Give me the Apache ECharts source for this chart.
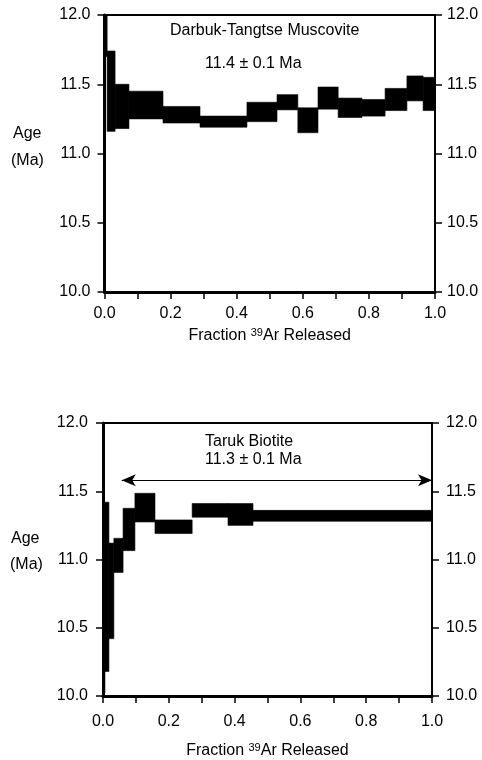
<!DOCTYPE html>
<html>
<head>
<meta charset="utf-8">
<script src="https://cdn.jsdelivr.net/npm/echarts@6/dist/echarts.min.js"></script>
<style>
html, body { margin: 0; padding: 0; background: #fff; }
#chart { width: 482px; height: 760px; }
</style>
</head>
<body>
<div id="chart"></div>
<script>
// Darbuk-Tangtse muscovite: step edges (cumulative 39Ar fraction), step ages and errors (Ma)
const muscoviteEdges = [0, 0.008, 0.032, 0.074, 0.177, 0.289, 0.431, 0.522, 0.585, 0.646, 0.707, 0.779, 0.849, 0.915, 0.964, 1.0]
const muscoviteAges = [12.0, 11.45, 11.34, 11.35, 11.28, 11.23, 11.30, 11.37, 11.24, 11.40, 11.33, 11.33, 11.39, 11.47, 11.43]
const muscoviteErrors = [0.30, 0.29, 0.16, 0.10, 0.06, 0.04, 0.07, 0.055, 0.09, 0.08, 0.07, 0.06, 0.08, 0.09, 0.12]

// Taruk biotite
const biotiteEdges = [0, 0.006, 0.018, 0.033, 0.061, 0.097, 0.158, 0.271, 0.380, 0.456, 1.0]
const biotiteAges = [10.72, 10.80, 10.77, 11.03, 11.22, 11.38, 11.24, 11.36, 11.33, 11.32]
const biotiteErrors = [0.70, 0.62, 0.35, 0.125, 0.155, 0.105, 0.05, 0.05, 0.08, 0.04]
const plateauRange = [0.057, 1.0]
const plateauArrowAge = 11.58

const yTicks = [10.0, 10.5, 11.0, 11.5, 12.0]

const FONT = 'Liberation Sans'
const FONT_CSS = '16px "Liberation Sans"'
const chart = echarts.init(document.getElementById('chart'))

function boxes (edges, ages, errors) {
  return ages.map((a, i) => [edges[i], edges[i + 1], a - errors[i], a + errors[i]])
}

function renderBox (params, api) {
  const p0 = api.coord([api.value(0), api.value(3)])
  const p1 = api.coord([api.value(1), api.value(2)])
  const cs = params.coordSys
  const shape = echarts.graphic.clipRectByRect(
    { x: p0[0], y: p0[1], width: p1[0] - p0[0], height: p1[1] - p0[1] },
    { x: cs.x, y: cs.y, width: cs.width, height: cs.height }
  )
  return shape && {
    type: 'rect',
    shape: shape,
    style: { fill: '#000', stroke: '#000', lineWidth: 0.6 }
  }
}

function xAxis (grid, labelMargin, nameGap) {
  return {
    type: 'value',
    gridIndex: grid,
    min: 0,
    max: 1,
    interval: 0.2,
    axisLine: { onZero: false, lineStyle: { color: '#000', width: 3 } },
    axisTick: { show: true, length: 7, lineStyle: { color: '#000', width: 1.5 } },
    minorTick: { show: true, splitNumber: 2, length: 7, lineStyle: { color: '#000', width: 1.5 } },
    splitLine: { show: false },
    axisLabel: {
      color: '#000',
      fontFamily: FONT,
      fontSize: 16,
      margin: labelMargin,
      formatter: v => v.toFixed(1)
    },
    name: 'Fraction {sup|39}Ar Released',
    nameLocation: 'middle',
    nameGap: nameGap,
    nameTextStyle: {
      color: '#000',
      fontFamily: FONT,
      fontSize: 16,
      rich: {
        sup: { fontFamily: FONT, fontSize: 11, verticalAlign: 'top', padding: [0, 0, 7, 0], color: '#000' }
      }
    }
  }
}

function yAxis (grid, side, margin) {
  return {
    type: 'value',
    gridIndex: grid,
    min: yTicks[0],
    max: yTicks[yTicks.length - 1],
    interval: 0.5,
    position: side,
    axisLine: { show: true, onZero: false, lineStyle: { color: '#000', width: side === 'left' ? 3 : 2 } },
    axisTick: { show: true, length: 7, lineStyle: { color: '#000', width: 1.5 } },
    splitLine: { show: false },
    axisLabel: {
      color: '#000',
      fontFamily: FONT,
      fontSize: 16,
      margin: margin,
      formatter: v => v.toFixed(1)
    }
  }
}

function text (str, x, y) {
  return { type: 'text', left: x, top: y, style: { text: str, fill: '#000', font: FONT_CSS } }
}

const option = {
  animation: false,
  backgroundColor: '#fff',
  grid: [
    { left: 104.5, right: 47, top: 15, height: 277, show: true, borderColor: '#000', borderWidth: 2 },
    { left: 103, right: 50, top: 423, height: 275, show: true, borderColor: '#000', borderWidth: 2 }
  ],
  xAxis: [
    xAxis(0, 14, 35),
    xAxis(1, 18, 46)
  ],
  yAxis: [
    yAxis(0, 'left', 14),
    yAxis(0, 'right', 12),
    yAxis(1, 'left', 15),
    yAxis(1, 'right', 14)
  ],
  graphic: [
    text('Darbuk-Tangtse Muscovite', 170, 23),
    text('11.4 ± 0.1 Ma', 205, 56),
    text('Taruk Biotite', 205, 434),
    text('11.3 ± 0.1 Ma', 205, 452),
    text('Age', 13, 126),
    text('(Ma)', 11, 153),
    text('Age', 11, 531),
    text('(Ma)', 10, 557)
  ],
  series: [
    {
      type: 'custom',
      xAxisIndex: 0,
      yAxisIndex: 0,
      renderItem: renderBox,
      encode: { x: [0, 1], y: [2, 3] },
      data: boxes(muscoviteEdges, muscoviteAges, muscoviteErrors)
    },
    {
      type: 'custom',
      xAxisIndex: 1,
      yAxisIndex: 2,
      renderItem: renderBox,
      encode: { x: [0, 1], y: [2, 3] },
      data: boxes(biotiteEdges, biotiteAges, biotiteErrors),
      markLine: {
        silent: true,
        symbol: ['arrow', 'arrow'],
        symbolSize: [9, 14],
        label: { show: false },
        lineStyle: { color: '#000', width: 1, type: 'solid' },
        data: [[
          { coord: [plateauRange[0], plateauArrowAge] },
          { coord: [plateauRange[1], plateauArrowAge] }
        ]]
      }
    }
  ]
}

chart.setOption(option)
</script>
</body>
</html>
